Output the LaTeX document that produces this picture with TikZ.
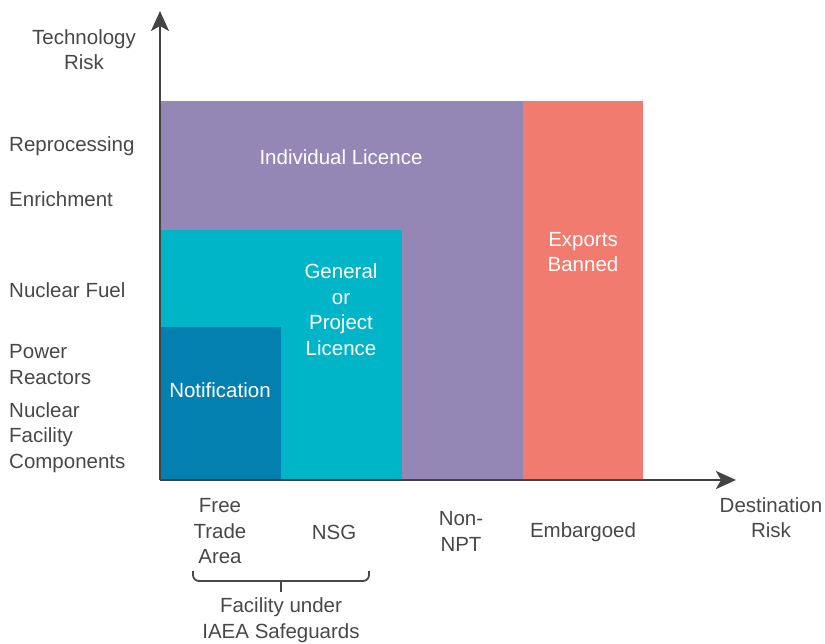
\documentclass[tikz,border=0pt]{standalone}
\usepackage{fontspec}
\setmainfont{Liberation Sans}
\usetikzlibrary{arrows.meta}
\definecolor{col_9487B5}{RGB}{148,135,181}
\definecolor{col_F07B6E}{RGB}{240,123,110}
\definecolor{col_00B5C8}{RGB}{0,181,200}
\definecolor{col_0480B0}{RGB}{4,128,176}
\definecolor{col_484848}{RGB}{72,72,72}
\definecolor{col_444444}{RGB}{68,68,68}
\tikzset{
  lbl/.style={text=col_484848, align=center, inner sep=0pt, font=\fontsize{20.5}{25.5}\selectfont},
  leftlbl/.style={lbl, align=left, anchor=west},
  boxlbl/.style={lbl, text=white},
  axis/.style={draw=col_444444, line width=2.6pt, -{Stealth[length=20pt,width=18pt,inset=5pt]}},
}

\begin{document}
\begin{tikzpicture}[x=1pt,y=-1pt]
\useasboundingbox (0,0) rectangle (825,643);
\fill[col_9487B5] (160,101) rectangle (523,480);     %% individual licence
\fill[col_F07B6E] (523,101) rectangle (643,480);     %% exports banned
\fill[col_00B5C8] (160,230) rectangle (402,480);     %% general or project licence
\fill[col_0480B0] (160,327) rectangle (281,480);     %% notification
\coordinate (origin) at (160,480);
\coordinate (ytip) at (160,11);
\coordinate (xtip) at (736,480);
\draw[axis] (origin) -- (ytip);
\draw[axis] (origin) -- (xtip);
\node[lbl] (techrisk) at (84,49.5) {Technology\\Risk};
\node[lbl] (destrisk) at (771,517.5) {Destination\\Risk};
\node[leftlbl] (reproc) at (9,146) {Reprocessing};
\node[leftlbl] (enrich) at (9,199) {Enrichment};
\node[leftlbl] (fuel) at (9,290) {Nuclear Fuel};
\node[leftlbl] (reactors) at (9,364.5) {Power\\Reactors};
\node[leftlbl] (components) at (9,437.5) {Nuclear\\Facility\\Components};
\node[boxlbl] (indiv) at (341,157) {Individual Licence};
\node[boxlbl] (banned) at (583,252) {Exports\\Banned};
\node[boxlbl] (general) at (341,309.5) {General\\or\\Project\\Licence};
\node[boxlbl] (notif) at (220,390) {Notification};
\node[lbl] (freetrade) at (220,531.5) {Free\\Trade\\Area};
\node[lbl] (nsg) at (334,532) {NSG};
\node[lbl] (nonnpt) at (461,531.5) {Non-\\NPT};
\node[lbl] (embargo) at (583,532) {Embargoed};
\coordinate (braceL) at (193,571);
\coordinate (braceR) at (369,571);
\coordinate (braceM) at (281,581);
\draw[col_484848, line width=1.8pt, rounded corners=6pt] (braceL) -- (193,581) -- (369,581) -- (braceR);
\draw[col_484848, line width=1.8pt] (braceM) -- (281,592);
\node[lbl] (iaea) at (281,620) {Facility under\\IAEA Safeguards};
\end{tikzpicture}
\end{document}
